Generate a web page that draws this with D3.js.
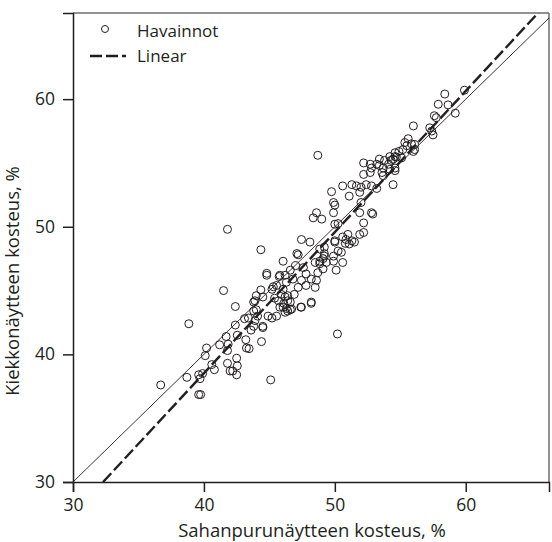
<!DOCTYPE html>
<html>
<head>
<meta charset="utf-8">
<script src="https://d3js.org/d3.v7.min.js"></script>
<style>
  body { margin: 0; background: #fff; }
  text { font-family: "Open Sans", "Noto Sans", sans-serif; fill: #231f20; }
</style>
</head>
<body>
<div id="chart"></div>
<script>
// sawdust sample moisture (x) and disc sample moisture (y), %
var sawdust = [36.7,38.7,38.85,39.6,39.7,39.9,39.6,39.75,40.1,40.2,40.6,40.8,41.2,41.5,41.7,41.85,41.8,41.8,42.0,42.2,
  42.5,42.55,42.5,42.4,42.4,42.55,43.2,43.45,43.25,43.4,43.8,43.6,44.4,44.5,44.1,44.0,43.8,44.0,44.35,44.5,
  44.8,45.1,45.2,45.55,45.3,45.4,41.8,44.35,44.8,43.1,43.9,44.9,44.5,45.75,46.2,45.9,46.2,46.4,46.1,46.3,
  46.2,45.7,45.8,47.45,48.1,49.2,50.0,49.2,47.2,46.05,48.5,48.85,49.1,48.7,49.9,50.1,45.8,46.6,47.0,47.6,
  47.8,48.2,48.6,47.45,46.8,46.3,45.55,45.2,46.05,47.2,47.8,48.5,46.9,46.4,46.6,46.05,46.4,46.7,47.45,48.2,
  43.9,43.8,49.75,51.3,51.65,52.0,52.4,52.8,53.2,51.9,51.1,49.9,50.0,49.9,52.0,52.8,52.9,48.6,48.35,49.0,
  50.0,50.25,52.2,52.2,51.9,51.0,50.6,50.85,51.3,51.5,51.1,50.8,50.0,50.25,50.5,47.1,48.85,49.2,49.1,48.85,
  49.35,49.9,50.6,48.7,55.6,55.35,55.5,55.85,56.1,55.2,54.9,54.6,54.3,54.7,55.1,54.2,53.8,53.4,53.2,53.4,
  53.7,54.1,52.2,52.7,52.8,52.7,52.2,54.6,53.7,54.45,51.9,59.9,58.4,57.9,58.65,59.2,57.6,57.75,56.0,57.25,
  57.4,57.5,56.0,56.1,54.6,54.45,54.2,54.6,53.6,50.2,48.2,47.4,46.6,50.6];
var disc = [37.6,38.2,42.4,38.4,38.1,38.5,36.85,36.85,39.9,40.5,39.2,38.8,40.75,45.0,41.4,40.8,40.3,39.3,38.7,38.7,
  38.4,39.1,39.7,42.3,43.75,41.5,41.15,40.45,40.5,42.85,42.2,41.9,41.0,42.2,43.0,43.5,44.1,44.6,45.05,44.5,
  46.2,38.0,42.85,43.0,45.3,44.4,49.8,48.2,46.35,42.8,42.65,43.0,42.1,46.1,46.2,44.7,44.5,44.2,44.0,43.6,
  43.3,44.2,43.7,49.0,48.8,48.4,48.8,47.7,47.8,47.3,47.2,47.1,46.7,46.4,47.7,46.6,46.2,46.6,46.95,46.8,
  46.3,45.9,45.8,45.8,45.9,45.65,45.4,45.1,45.1,45.25,45.4,45.25,44.7,44.6,44.1,43.7,43.4,43.55,43.7,44.1,
  44.2,43.4,52.75,53.3,53.2,53.1,53.3,53.2,53.0,52.7,52.4,51.9,51.7,51.1,51.9,51.1,51.0,51.1,50.7,50.6,
  50.2,50.25,50.3,49.55,49.4,49.4,49.2,49.0,48.9,48.8,48.65,48.7,48.9,48.1,48.0,47.9,48.25,47.9,47.5,47.3,
  47.2,47.3,47.2,55.6,56.9,56.6,56.35,56.5,56.05,56.05,55.9,55.5,55.2,55.45,55.4,55.5,55.2,55.3,54.9,54.8,
  54.6,54.9,55.0,54.9,54.6,54.25,54.1,54.6,54.0,53.3,51.1,60.7,60.4,59.6,59.55,58.9,58.7,58.55,57.9,57.75,
  57.5,57.2,55.9,56.45,55.8,55.3,54.5,54.4,54.25,41.6,44.0,43.7,43.5,53.2];

var xTicks = [30, 40, 50, 60];
var yTicks = [30, 40, 50, 60];

// fitted line: disc = slope * sawdust + intercept
var slope = 1.106, intercept = -5.72;

var legendLabels = ["Havainnot", "Linear"];

var margin = {top: 13, right: 3, bottom: 60, left: 73},
    width = 552 - margin.left - margin.right,
    height = 542 - margin.top - margin.bottom;

var svg = d3.select("#chart")
  .append("svg")
    .attr("width", 552)
    .attr("height", 542)
  .append("g")
    .attr("transform", "translate(" + margin.left + "," + margin.top + ")");

var x = d3.scaleLinear().domain([30, 66.36]).range([0, width]);
var y = d3.scaleLinear().domain([30, 66.75]).range([height, 0]);

// grey top / right frame
svg.append("line").attr("x1", 0).attr("x2", width).attr("y1", 0).attr("y2", 0)
    .style("stroke", "#6d6e70").style("stroke-width", 1.5);
svg.append("line").attr("x1", width).attr("x2", width).attr("y1", 0).attr("y2", height)
    .style("stroke", "#6d6e70").style("stroke-width", 1.5);

svg.append("clipPath").attr("id", "clip")
  .append("rect").attr("width", width).attr("height", height);

var plot = svg.append("g").attr("clip-path", "url(#clip)");

// 1:1 line
plot.append("line")
    .attr("x1", x(30)).attr("y1", y(30))
    .attr("x2", x(70)).attr("y2", y(70))
    .style("stroke", "#231f20").style("stroke-width", 0.9);

// regression line
var xa = (30 - intercept) / slope, xb = (70 - intercept) / slope;
plot.append("line")
    .attr("x1", x(xa)).attr("y1", y(30))
    .attr("x2", x(xb)).attr("y2", y(70))
    .style("stroke", "#231f20").style("stroke-width", 2.4)
    .style("stroke-dasharray", "12,4");

// observations
plot.selectAll("circle.obs")
    .data(sawdust)
    .enter()
    .append("circle")
      .attr("class", "obs")
      .attr("cx", function(d) { return x(d); })
      .attr("cy", function(d, i) { return y(disc[i]); })
      .attr("r", 4)
      .style("fill", "none")
      .style("stroke", "#231f20")
      .style("stroke-width", 1);

// axes
var xAxis = svg.append("g")
    .attr("transform", "translate(0," + height + ")")
    .call(d3.axisBottom(x).tickValues(xTicks).tickSize(10).tickPadding(7));
var yAxis = svg.append("g")
    .call(d3.axisLeft(y).tickValues(yTicks).tickSize(10).tickPadding(8));

[xAxis, yAxis].forEach(function(a) {
  a.select(".domain").style("stroke", "#231f20").style("stroke-width", 1.5);
  a.selectAll(".tick line").style("stroke", "#231f20").style("stroke-width", 1.5);
  a.selectAll(".tick text").style("font-size", "17.5px").style("fill", "#231f20")
    .style("font-family", "'Open Sans', sans-serif");
});

// axis titles
svg.append("text")
    .attr("x", 239)
    .attr("y", height + 55)
    .style("text-anchor", "middle")
    .style("font-size", "18.5px")
    .text("Sahanpurunäytteen kosteus, %");

svg.append("text")
    .attr("transform", "rotate(-90)")
    .attr("x", -268)
    .attr("y", -54)
    .style("text-anchor", "middle")
    .style("font-size", "18.5px")
    .text("Kiekkonäytteen kosteus, %");

// Handmade legend
svg.append("circle").attr("cx", 32).attr("cy", 16).attr("r", 3.5)
    .style("fill", "none").style("stroke", "#231f20").style("stroke-width", 1);
svg.append("line").attr("x1", 17).attr("x2", 53).attr("y1", 43).attr("y2", 43)
    .style("stroke", "#231f20").style("stroke-width", 2.4).style("stroke-dasharray", "12,4");
svg.append("text").attr("x", 64).attr("y", 19).text(legendLabels[0])
    .style("font-size", "17px").attr("dominant-baseline", "middle");
svg.append("text").attr("x", 64).attr("y", 44).text(legendLabels[1])
    .style("font-size", "17px").attr("dominant-baseline", "middle");
</script>
</body>
</html>
